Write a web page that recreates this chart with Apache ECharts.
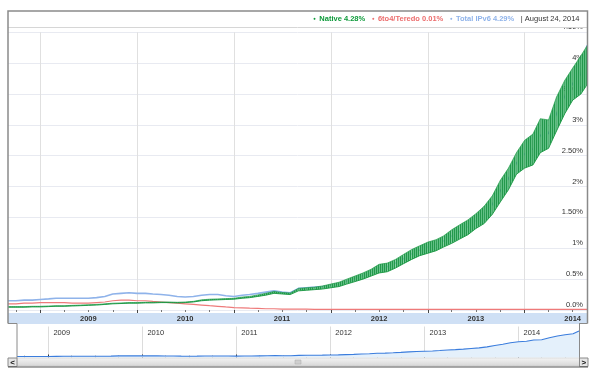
<!DOCTYPE html>
<html><head><meta charset="utf-8">
<script src="https://cdn.jsdelivr.net/npm/echarts@6/dist/echarts.min.js"></script>
<style>html,body{margin:0;padding:0;background:#fff}#c{width:600px;height:373px}</style>
</head><body><div id="c"></div><script>
// ---- data (percent of users) ----
const dates = ['2008-09-01','2008-10-01','2008-11-01','2008-12-01',
 '2009-01-01','2009-02-01','2009-03-01','2009-04-01','2009-05-01','2009-06-01','2009-07-01','2009-08-01','2009-09-01','2009-10-01','2009-11-01','2009-12-01',
 '2010-01-01','2010-02-01','2010-03-01','2010-04-01','2010-05-01','2010-06-01','2010-07-01','2010-08-01','2010-09-01','2010-10-01','2010-11-01','2010-12-01',
 '2011-01-01','2011-02-01','2011-03-01','2011-04-01','2011-05-01','2011-06-01','2011-07-01','2011-08-01','2011-09-01','2011-10-01','2011-11-01','2011-12-01',
 '2012-01-01','2012-02-01','2012-03-01','2012-04-01','2012-05-01','2012-06-01','2012-07-01','2012-08-01','2012-09-01','2012-10-01','2012-11-01','2012-12-01',
 '2013-01-01','2013-02-01','2013-03-01','2013-04-01','2013-05-01','2013-06-01','2013-07-01','2013-08-01','2013-09-01','2013-10-01','2013-11-01','2013-12-01',
 '2014-01-01','2014-02-01','2014-03-01','2014-04-01','2014-05-01','2014-06-01','2014-07-01','2014-08-01','2014-08-24'];
// Native: weekday lows and weekend highs of the weekly swing
const nativeLow = [0.045,0.045,0.045,0.05, 0.05,0.055,0.06,0.06,0.065,0.07,0.075,0.08,0.09,0.10,0.105,0.11,
 0.11,0.115,0.115,0.12,0.12,0.115,0.12,0.13,0.15,0.16,0.165,0.17,
 0.175,0.19,0.20,0.22,0.24,0.27,0.26,0.25,0.31,0.32,0.33,0.34,
 0.36,0.38,0.42,0.46,0.50,0.55,0.60,0.62,0.68,0.75,0.82,0.88,
 0.92,0.96,1.02,1.08,1.15,1.22,1.32,1.40,1.55,1.75,1.95,2.20,
 2.30,2.35,2.55,2.62,2.90,3.18,3.40,3.50,3.65];
const nativeHigh = [0.055,0.055,0.055,0.06, 0.06,0.065,0.07,0.07,0.075,0.08,0.085,0.09,0.10,0.11,0.115,0.12,
 0.12,0.125,0.125,0.13,0.13,0.125,0.13,0.14,0.165,0.175,0.18,0.185,
 0.19,0.21,0.22,0.245,0.27,0.30,0.285,0.275,0.35,0.36,0.37,0.39,
 0.42,0.45,0.50,0.55,0.60,0.66,0.74,0.76,0.82,0.90,0.98,1.04,
 1.10,1.14,1.20,1.30,1.38,1.46,1.56,1.68,1.85,2.10,2.30,2.55,
 2.75,2.85,3.10,3.08,3.45,3.72,3.92,4.12,4.28];
const teredo = [0.10,0.10,0.11,0.11, 0.12,0.12,0.12,0.12,0.11,0.11,0.11,0.12,0.13,0.15,0.16,0.16,
 0.15,0.15,0.14,0.13,0.12,0.11,0.10,0.09,0.08,0.07,0.06,0.05,
 0.04,0.035,0.03,0.025,0.02,0.02,0.015,0.015,0.015,0.015,0.01,0.01,
 0.01,0.01,0.01,0.01,0.01,0.01,0.01,0.01,0.01,0.01,0.01,0.01,
 0.01,0.01,0.01,0.01,0.01,0.01,0.01,0.01,0.01,0.01,0.01,0.01,
 0.01,0.01,0.01,0.01,0.01,0.01,0.01,0.01,0.01];
const total = [0.15,0.15,0.16,0.16, 0.17,0.18,0.19,0.19,0.19,0.19,0.19,0.20,0.22,0.26,0.27,0.28,
 0.27,0.27,0.26,0.25,0.24,0.22,0.21,0.22,0.24,0.25,0.25,0.23,
 0.22,0.24,0.25,0.27,0.29,0.31,0.29,0.28,0.35,0.36,0.37,0.38,
 0.40,0.43,0.47,0.51,0.56,0.61,0.68,0.70,0.76,0.83,0.91,0.97,
 1.02,1.06,1.12,1.20,1.27,1.35,1.45,1.55,1.71,1.93,2.13,2.38,
 2.53,2.61,2.83,2.86,3.18,3.46,3.67,3.82,4.29];
const rangeStart = '2008-09-01', rangeEnd = '2014-08-24';
const yTickValues = [0,0.5,1,1.5,2,2.5,3,3.5,4,4.5];
const yTickLabels = ['0.0%','0.5%','1%','1.50%','2%','2.50%','3%','3.50%','4%','4.50%'];
const years = [2009,2010,2011,2012,2013,2014];
const legendNames = ['Native','6to4/Teredo','Total IPv6'];
const legendValues = ['4.28%','0.01%','4.29%'];
const dateLabel = 'August 24, 2014';

// ---- helpers ----
const ts = d => Date.parse(d + 'T00:00:00Z');
const t0 = ts(rangeStart), t1 = ts(rangeEnd);
const X = dates.map(ts);
const pairs = arr => arr.map((v,i) => [X[i], v]);
const bandSegs = [];
for (let i = 0; i < X.length - 1; i++) bandSegs.push([X[i], nativeLow[i], nativeHigh[i], X[i+1], nativeLow[i+1], nativeHigh[i+1]]);
const yearStarts = years.map(y => Date.UTC(y,0,1));
const yearMids = years.map(y => Date.UTC(y,6,1));
const quarters = [];
for (let y = 2008; y <= 2014; y++) for (const m of [3,6,9]) { const t = Date.UTC(y,m,1); if (t > t0 && t < t1) quarters.push(t); }
const FONT = '"Liberation Sans", Arial, sans-serif';

const C_GREEN = '#16963f', C_RED = '#ee7a7a', C_BLUE = '#8fb3ea';
// fine striped fill imitating the dense weekly zig-zag of the Native series
const pc = document.createElement('canvas'); pc.width = 2; pc.height = 2;
const pctx = pc.getContext('2d');
pctx.fillStyle = '#62c085'; pctx.fillRect(0,0,2,2);
pctx.fillStyle = '#23984c'; pctx.fillRect(0,0,1,2);
const BAND_FILL = {image: pc, repeat: 'repeat'};

const chart = echarts.init(document.getElementById('c'), null, {renderer:'canvas'});
const option = {
  animation: false,
  textStyle: {fontFamily: FONT},
  grid: [
    {left: 8, right: 13, top: 32.3, bottom: 63},
    {left: 17, right: 21, top: 326.5, bottom: 15.5}
  ],
  xAxis: [
    {gridIndex:0, type:'value', min:t0, max:t1, position:'bottom',
     axisLine:{show:false},
     axisTick:{show:true, customValues: yearStarts, length:3, lineStyle:{color:'#444', width:1}},
     splitLine:{show:true, lineStyle:{color:'#e0e0e0', width:1}},
     axisLabel:{customValues: yearMids, formatter: v => String(new Date(v).getUTCFullYear()),
       fontSize:7.5, fontWeight:'bold', color:'#333', margin:4.5, fontFamily:FONT}},
    {gridIndex:0, type:'value', min:t0, max:t1, position:'bottom',
     axisLine:{show:false}, splitLine:{show:false}, axisLabel:{show:false},
     axisTick:{show:true, customValues: quarters, length:2, lineStyle:{color:'#777', width:1}}},
    {gridIndex:1, type:'value', min:t0, max:t1, position:'top',
     axisLine:{show:false}, axisTick:{show:false, customValues: yearStarts},
     splitLine:{show:true, lineStyle:{color:'#dcdcdc', width:1}},
     axisLabel:{inside:true, customValues: yearStarts, formatter: v => String(new Date(v).getUTCFullYear()),
       fontSize:7.5, color:'#333', align:'left', padding:[0,0,0,5], margin:2.5, fontFamily:FONT}},
    {gridIndex:1, type:'value', min:t0, max:t1, position:'bottom',
     axisLine:{show:false}, splitLine:{show:false}, axisLabel:{show:false},
     axisTick:{show:true, inside:true, customValues: yearStarts, length:3, lineStyle:{color:'#333', width:1}}},
    {gridIndex:1, type:'value', min:t0, max:t1, position:'bottom',
     axisLine:{show:false}, splitLine:{show:false}, axisLabel:{show:false},
     axisTick:{show:true, inside:true, customValues: quarters, length:2, lineStyle:{color:'#aaa', width:1}}}
  ],
  yAxis: [
    {gridIndex:0, type:'value', min:0, max:4.5, interval:0.5, position:'right',
     axisLine:{show:false}, axisTick:{show:false},
     splitLine:{show:true, lineStyle:{color:'#e8eaf1', width:1}},
     axisLabel:{inside:true, margin:4, fontSize:7.5, color:'#333', verticalAlign:'bottom', lineHeight:10,
       fontFamily:FONT, formatter: v => { const i = yTickValues.findIndex(t => Math.abs(t - v) < 1e-9); return i >= 0 ? yTickLabels[i] : ''; }}},
    {gridIndex:1, type:'value', min:0, max:5, show:false}
  ],
  series: [
    {name:'Total IPv6', type:'line', z:1, xAxisIndex:0, yAxisIndex:0, data:pairs(total), showSymbol:false,
     lineStyle:{color:C_BLUE, width:1.6}, itemStyle:{color:C_BLUE}},
    {name:'6to4/Teredo', type:'line', z:2, xAxisIndex:0, yAxisIndex:0, data:pairs(teredo), showSymbol:false,
     lineStyle:{color:C_RED, width:1.2}, itemStyle:{color:C_RED}},
    {name:'NativeBand', type:'custom', z:3, xAxisIndex:0, yAxisIndex:0, data:bandSegs, clip:true,
     dimensions:['x0','l0','h0','x1','l1','h1'], encode:{x:[0,3], y:[1,2,4,5]},
     renderItem: (params, api) => {
       const a = api.coord([api.value(0), api.value(1)]);
       const b = api.coord([api.value(0), api.value(2)]);
       const c = api.coord([api.value(3), api.value(5)]);
       const d = api.coord([api.value(3), api.value(4)]);
       return {type:'polygon', shape:{points:[a,b,c,d]}, style:{fill:BAND_FILL, stroke:null}};
     }},
    {name:'NativeLow', type:'line', z:4, xAxisIndex:0, yAxisIndex:0, data:pairs(nativeLow), showSymbol:false,
     lineStyle:{color:C_GREEN, width:0.9}, itemStyle:{color:C_GREEN}},
    {name:'NativeHigh', type:'line', z:4, xAxisIndex:0, yAxisIndex:0, data:pairs(nativeHigh), showSymbol:false,
     lineStyle:{color:C_GREEN, width:0.8, opacity:0.8}, itemStyle:{color:C_GREEN}},
    {name:'nav', type:'line', xAxisIndex:2, yAxisIndex:1, data:pairs(total), showSymbol:false,
     lineStyle:{color:'#3b7ddd', width:1.1}, areaStyle:{color:'#e4f0fb', opacity:1}}
  ],
  graphic: [
    {type:'rect', z:-1, shape:{x:8, y:313, width:579, height:11}, style:{fill:'#cfe0f5'}},
    {type:'rect', z:50, shape:{x:8.5, y:0, width:579, height:27}, style:{fill:'#fff'}},
    {type:'line', z:51, shape:{x1:8, y1:27.5, x2:587, y2:27.5}, style:{stroke:'#d6d6d6', lineWidth:1}},
    {type:'polyline', z:52, shape:{points:[[8,323.5],[8,11],[587.5,11],[587.5,323.5]]}, style:{stroke:'#8a8a8a', lineWidth:1.5, fill:null}},
    {type:'line', z:52, shape:{x1:8, y1:323.5, x2:17, y2:323.5}, style:{stroke:'#8a8a8a', lineWidth:1}},
    {type:'line', z:52, shape:{x1:579, y1:323.5, x2:587.5, y2:323.5}, style:{stroke:'#8a8a8a', lineWidth:1}},
    {type:'line', z:52, shape:{x1:17, y1:323.5, x2:17, y2:358}, style:{stroke:'#8a8a8a', lineWidth:1}},
    {type:'line', z:52, shape:{x1:579.5, y1:323.5, x2:579.5, y2:358}, style:{stroke:'#8a8a8a', lineWidth:1}},
    {type:'rect', z:52, shape:{x:17, y:358, width:562.5, height:8},
     style:{fill:new echarts.graphic.LinearGradient(0,0,0,1,[{offset:0,color:'#f4f4f4'},{offset:1,color:'#d6d6d6'}]), stroke:'#c4c4c4', lineWidth:0.5}},
    {type:'rect', z:53, shape:{x:8, y:358, width:9, height:8.5}, style:{fill:'#e6e6e6', stroke:'#8a8a8a', lineWidth:1}},
    {type:'rect', z:53, shape:{x:579.5, y:358, width:8.5, height:8.5}, style:{fill:'#e6e6e6', stroke:'#8a8a8a', lineWidth:1}},
    {type:'text', z:54, style:{x:12.5, y:362.5, text:'<', font:'bold 8px ' + FONT, fill:'#111', align:'center', verticalAlign:'middle'}},
    {type:'text', z:54, style:{x:583.8, y:362.5, text:'>', font:'bold 8px ' + FONT, fill:'#111', align:'center', verticalAlign:'middle'}},
    {type:'rect', z:53, shape:{x:295, y:360, width:6, height:4}, style:{fill:'#cfcfcf', stroke:'#aaa', lineWidth:0.5}},
    {type:'line', z:53, shape:{x1:8, y1:367, x2:588, y2:367}, style:{stroke:'#555', lineWidth:1.2}},
    {type:'text', z:60, style:{x:579.5, y:18.5, align:'right', verticalAlign:'middle',
      text: '{gd|\u25CF} {g|' + legendNames[0] + ' ' + legendValues[0] + '}  {rd|\u25CF} {r|' + legendNames[1] + ' ' + legendValues[1] + '}  {bd|\u25CF} {b|' + legendNames[2] + ' ' + legendValues[2] + '}  {d|| ' + dateLabel + '}',
      rich:{
        gd:{fill:'#0d9a3a', fontSize:4.5, fontFamily:FONT},
        g:{fill:'#0d9a3a', fontSize:7.5, fontWeight:'bold', fontFamily:FONT},
        rd:{fill:'#ec6d6d', fontSize:4.5, fontFamily:FONT},
        r:{fill:'#ec6d6d', fontSize:7.5, fontWeight:'bold', fontFamily:FONT},
        bd:{fill:'#8fb3ea', fontSize:4.5, fontFamily:FONT},
        b:{fill:'#8fb3ea', fontSize:7.5, fontWeight:'bold', fontFamily:FONT},
        d:{fill:'#333', fontSize:7.5, fontFamily:FONT}
      }}}
  ]
};
chart.setOption(option);
</script></body></html>
